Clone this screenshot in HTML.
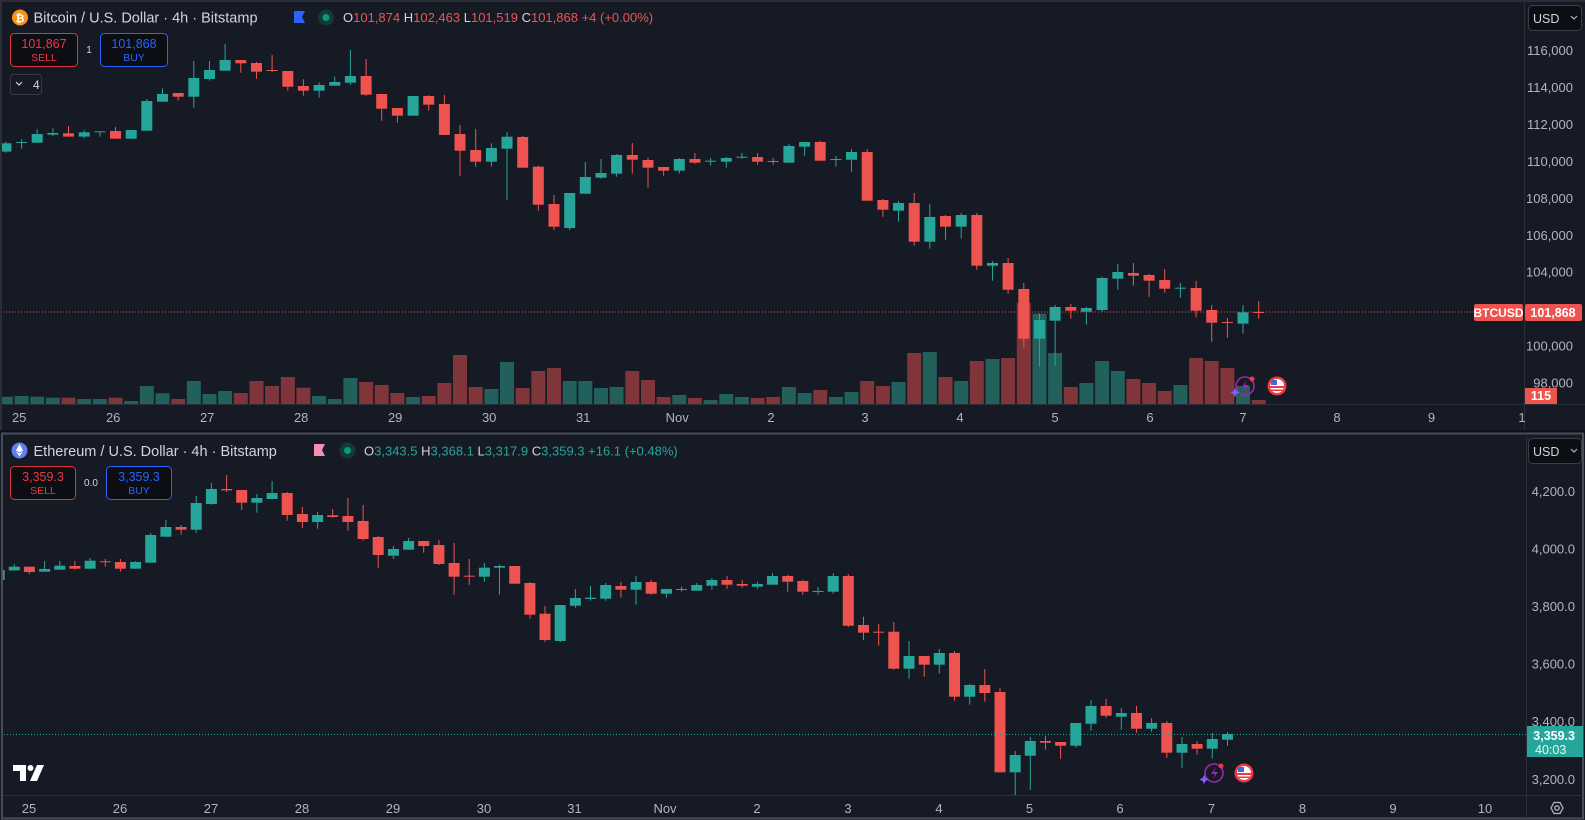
<!DOCTYPE html>
<html><head><meta charset="utf-8"><style>
html,body{margin:0;padding:0;background:#161a25;width:1585px;height:820px;overflow:hidden}
svg{display:block}
text{font-family:"Liberation Sans",sans-serif}
</style></head><body>
<svg id="s" width="1585" height="820" xmlns="http://www.w3.org/2000/svg"></svg>
<script>
const S=document.getElementById('s');let h='';
const G='#26a69a',R='#ef5350',VG='#22605c',VR='#7f353a',TX='#b2b5be';
h+=`<rect x="0" y="0" width="1585" height="820" fill="#161a25"/>`;
h+=`<rect x="0" y="0" width="1585" height="2" fill="#2a2e39"/>`;
h+=`<rect x="0" y="0" width="2" height="432" fill="#2a2e39"/>`;
// axis lines
h+=`<line x1="1524.5" y1="0" x2="1524.5" y2="432" stroke="#2a2e39"/>`;
h+=`<line x1="0" y1="404.5" x2="1585" y2="404.5" stroke="#2a2e39"/>`;
h+=`<rect x="0" y="430" width="1585" height="4" fill="#0f1117"/>`;
h+=`<rect x="2" y="433.5" width="1581" height="385" fill="none" stroke="#4a4d57" stroke-width="2"/>`;
h+=`<line x1="1526.5" y1="434" x2="1526.5" y2="818" stroke="#2a2e39"/>`;
h+=`<line x1="3" y1="795.5" x2="1583" y2="795.5" stroke="#2a2e39"/>`;

// BTC data [bt,bb,wt,wb,c]
const B=[[430,455,425,458,1],[426,428,418,446,1],[402,428,388,428,1],[399,404,385,408,1],[400,410,378,410,0],[397,410,390,415,1],[394,396,394,410,1],[393,416,381,416,0],[390,416,390,416,1],[303,392,297,392,1],[282,305,265,305,1],[279,290,279,302,0],[234,290,183,323,1],[210,237,183,242,1],[180,212,132,212,1],[180,190,180,218,0],[189,215,186,236,0],[210,213,165,216,0],[213,260,213,272,0],[258,272,238,287,0],[255,272,247,293,1],[246,257,230,257,1],[228,248,150,255,1],[228,284,177,287,0],[282,326,282,362,0],[324,347,324,368,0],[288,347,288,347,1],[288,314,286,332,0],[312,405,285,405,0],[402,452,375,527,0],[450,485,387,500,0],[444,485,430,500,1],[410,446,396,600,1],[411,503,408,503,0],[500,614,497,632,0],[612,680,585,690,0],[579,684,579,690,1],[531,581,486,581,1],[519,533,477,536,1],[465,521,462,530,1],[465,479,429,521,0],
[480,503,474,563,0],[501,512,501,527,0],[477,512,474,521,1],[477,488,459,491,0],[482,485,474,497,1],[474,485,471,503,1],[470,472,459,476,1],[471,485,459,494,0],[483,485,474,494,0],[438,488,432,488,1],[426,440,426,467,1],[426,482,423,482,0],[477,479,468,500,1],[456,479,447,515,1],[456,602,447,602,0],[600,629,597,650,0],[609,632,603,665,1],[609,725,579,737,0],[651,725,612,746,1],[648,680,645,719,0],[645,680,639,716,1],[645,797,639,809,0],[789,797,783,842,1],[789,869,774,881,0],[867,1016,849,1042,0],[960,1016,940,1100,1],[921,962,915,1097,1],[921,932,912,956,0],[924,935,921,974,1],[834,930,830,935,1],[816,836,792,869,1],[819,827,789,857,0],[825,842,822,890,0],[840,866,807,878,0],[863,865,849,893,1],[864,932,843,952,0],[930,968,915,1025,0],[966,968,954,1013,0],[937,971,915,1001,1],[936,938,903,956,0]];
const BV=[1190,1188,1190,1193,1193,1197,1197,1193,1203,1158,1180,1197,1143,1182,1173,1179,1143,1158,1131,1163,1188,1197,1134,1146,1155,1179,1191,1188,1149,1065,1161,1167,1086,1164,1113,1104,1143,1143,1164,1161,1113,
1140,1191,1185,1194,1200,1182,1191,1194,1191,1161,1179,1170,1191,1176,1143,1158,1146,1059,1056,1131,1143,1083,1077,1074,908,941,1059,1161,1149,1083,1113,1137,1149,1173,1155,1074,1083,1104,1158,1200];
h+=`<defs><clipPath id="cb"><rect x="2" y="0" width="1522" height="404"/></clipPath><clipPath id="ce"><rect x="3" y="434" width="1523" height="361"/></clipPath></defs>`;
let g='<g clip-path="url(#cb)">';
B.forEach((d,k)=>{const x=5.9+15.66*k;const v=BV[k];const c=d[4]?VG:VR;
g+=`<rect x="${(x-7).toFixed(1)}" y="${(v/3).toFixed(1)}" width="14" height="${(404-v/3).toFixed(1)}" fill="${c}"/>`;});
B.forEach((d,k)=>{const x=5.9+15.66*k;const c=d[4]?G:R;
g+=`<rect x="${(x-0.5).toFixed(1)}" y="${(d[2]/3).toFixed(1)}" width="1" height="${((d[3]-d[2])/3).toFixed(1)}" fill="${c}"/>`;
g+=`<rect x="${(x-5.5).toFixed(1)}" y="${(d[0]/3).toFixed(1)}" width="11" height="${Math.max(1,(d[1]-d[0])/3).toFixed(1)}" fill="${c}"/>`;});
g+='</g>';h+=g;

// ETH data
const E=[[420,450,420,455,1],[410,421,403,421,1],[410,426,410,432,0],[417,425,393,425,1],[407,419,393,419,1],[408,416,393,419,0],[392,416,384,416,1],[394,396,387,410,0],[396,416,387,425,0],[396,416,393,416,1],[315,398,309,398,1],[291,320,270,320,1],[291,299,285,314,0],[219,299,198,308,1],[177,222,159,224,1],[177,181,135,186,0],[180,218,180,240,0],[204,218,192,248,1],[189,207,153,207,1],[189,255,186,272,0],[252,276,231,294,0],[255,276,246,296,1],[256,261,237,263,0],[258,276,204,302,0],[273,327,225,332,0],[321,375,318,413,0],[357,377,348,387,1],[333,359,324,359,1],[333,348,333,368,0],[345,402,330,405,0],[399,440,339,494,0],[437,440,387,464,0],[413,440,399,455,1],[408,413,404,494,1],[408,461,408,461,0],[459,554,456,566,0],[551,630,528,636,0],[525,633,525,636,1],[504,527,477,533,1],[503,507,468,512,1],[465,506,459,512,1],[468,479,456,503,0],[456,479,438,524,1],
[456,491,450,494,0],[477,491,477,503,1],[477,480,470,484,0],[465,482,459,482,1],[450,467,444,479,1],[450,464,438,476,0],[462,467,450,473,0],[462,470,456,476,1],[438,464,429,464,1],[438,455,435,485,0],[453,485,450,494,0],[483,486,471,494,1],[438,485,429,491,1],[438,587,432,590,0],[585,608,560,630,0],[605,608,582,647,0],[605,716,576,719,0],[678,716,633,746,1],[678,704,678,740,0],[669,704,657,731,1],[669,800,663,812,0],[765,800,762,824,1],[765,789,717,815,0],[786,1027,774,1027,0],[975,1027,963,1095,1],[933,977,921,1080,1],[933,938,918,959,0],[936,947,936,986,0],[879,947,879,953,1],[828,881,810,902,1],[828,857,807,863,0],[849,860,834,899,1],[849,896,828,908,0],[879,896,864,905,1],[879,968,873,983,0],[942,968,921,1013,1],[942,956,933,974,0],[927,956,909,986,1],[912,929,906,947,1]];
g='<g clip-path="url(#ce)">';
E.forEach((d,k)=>{const x=-0.9+15.165*k;const c=d[4]?G:R;
g+=`<rect x="${(x-0.5).toFixed(1)}" y="${(430+d[2]/3).toFixed(1)}" width="1" height="${((d[3]-d[2])/3).toFixed(1)}" fill="${c}"/>`;
g+=`<rect x="${(x-5.5).toFixed(1)}" y="${(430+d[0]/3).toFixed(1)}" width="11" height="${Math.max(1,(d[1]-d[0])/3).toFixed(1)}" fill="${c}"/>`;});
g+='</g>';h+=g;

// price lines
h+=`<line x1="3" y1="312" x2="1474" y2="312" stroke="${R}" stroke-dasharray="1 2"/>`;
h+=`<line x1="4" y1="734.5" x2="1527" y2="734.5" stroke="${G}" stroke-dasharray="1 2"/>`;

// BTC axis labels
[[116,50.7],[114,87.6],[112,124.5],[110,161.4],[108,198.4],[106,235.3],[104,272.2],[100,346],[98,382.9]].forEach(a=>{
h+=`<text x="1573" y="${a[1]+4.5}" fill="${TX}" font-size="13" text-anchor="end">${a[0]},000</text>`;});
[['4,200.0',491.3],['4,000.0',548.9],['3,800.0',606.5],['3,600.0',664.1],['3,400.0',721.7],['3,200.0',779.3]].forEach(a=>{
h+=`<text x="1575" y="${a[1]+4.5}" fill="${TX}" font-size="13" text-anchor="end">${a[0]}</text>`;});
// BTC price tags
h+=`<rect x="1474" y="304" width="49" height="17" rx="2" fill="${R}"/><text x="1498.5" y="317" fill="#fff" font-size="12" font-weight="bold" text-anchor="middle">BTCUSD</text>`;
h+=`<rect x="1525" y="304" width="57" height="17" rx="2" fill="${R}"/><text x="1553" y="317" fill="#fff" font-size="12.5" font-weight="bold" text-anchor="middle">101,868</text>`;
h+=`<rect x="1525" y="388" width="32" height="16" fill="${R}"/><text x="1541" y="400" fill="#fff" font-size="12.5" font-weight="bold" text-anchor="middle">115</text>`;
h+=`<rect x="1527" y="726" width="56" height="31" fill="${G}"/><text x="1575" y="740" fill="#fff" font-size="12.5" font-weight="bold" text-anchor="end">3,359.3</text><text x="1535" y="754" fill="#e8f5f3" font-size="12.5">40:03</text>`;
// USD boxes
[[5],[438]].forEach(a=>{const y=a[0];h+=`<rect x="1528.5" y="${y+0.5}" width="53" height="25" rx="4" fill="#0c0e13" stroke="#3a3e4a"/><text x="1533" y="${y+18}" fill="#d1d4dc" font-size="12.5">USD</text><path d="M1571 ${y+11} l3 3 l3 -3" stroke="#b2b5be" fill="none" stroke-width="1.2"/>`;});
// time labels
[['25',19.2],['26',113.2],['27',207.2],['28',301.2],['29',395.2],['30',489.2],['31',583.2],['Nov',677.2],['2',771],['3',865],['4',960],['5',1055],['6',1150],['7',1243],['8',1337],['9',1431.5],['1',1522]].forEach(a=>{
h+=`<text x="${a[1]}" y="422" fill="${TX}" font-size="13" text-anchor="middle">${a[0]}</text>`;});
[['25',29],['26',120],['27',211],['28',302],['29',393],['30',484],['31',574.5],['Nov',665],['2',757],['3',848],['4',939],['5',1029.5],['6',1120],['7',1211.5],['8',1302.5],['9',1393],['10',1485]].forEach(a=>{
h+=`<text x="${a[1]}" y="813" fill="${TX}" font-size="13" text-anchor="middle">${a[0]}</text>`;});
// settings icon
h+=`<path d="M1551 808 l3 -5.5 h6 l3 5.5 l-3 5.5 h-6 z" fill="none" stroke="#b2b5be" stroke-width="1.3"/><circle cx="1557" cy="808" r="2.2" fill="none" stroke="#b2b5be" stroke-width="1.3"/>`;

// headers
h+=`<circle cx="20" cy="17.5" r="8" fill="#f7931a"/><text x="20" y="22" fill="#fff" font-size="11" font-weight="bold" text-anchor="middle">₿</text>`;
h+=`<text x="33.5" y="22.5" fill="#d1d4dc" font-size="14.5">Bitcoin / U.S. Dollar · 4h · Bitstamp</text>`;
h+=`<path d="M294 11 h11 l-3 6 l3 6 h-11 z" fill="#2962ff"/>`;
h+=`<circle cx="326" cy="17.5" r="8" fill="#123a37"/><circle cx="326" cy="17.5" r="3.5" fill="#089981"/>`;
h+=`<text x="343" y="22" font-size="13" fill="${R}"><tspan fill="#d1d4dc">O</tspan>101,874 <tspan fill="#d1d4dc">H</tspan>102,463 <tspan fill="#d1d4dc">L</tspan>101,519 <tspan fill="#d1d4dc">C</tspan>101,868 +4 (+0.00%)</text>`;
h+=`<rect x="10.5" y="33.5" width="67" height="33" rx="4" fill="#0c0e13" stroke="#e0343c"/><text x="44" y="48" fill="#f23645" font-size="12.5" text-anchor="middle">101,867</text><text x="44" y="61" fill="#f23645" font-size="10.5" text-anchor="middle">SELL</text>`;
h+=`<text x="89" y="53" fill="#d1d4dc" font-size="10" text-anchor="middle">1</text>`;
h+=`<rect x="100.5" y="33.5" width="67" height="33" rx="4" fill="#0c0e13" stroke="#2962ff"/><text x="134" y="48" fill="#2962ff" font-size="12.5" text-anchor="middle">101,868</text><text x="134" y="61" fill="#2962ff" font-size="10.5" text-anchor="middle">BUY</text>`;
h+=`<rect x="10.5" y="74.5" width="31" height="20" rx="3" fill="#161a25" stroke="#363a45"/><path d="M16 82 l3 3 l3 -3" stroke="#d1d4dc" fill="none" stroke-width="1.2"/><text x="33" y="89" fill="#d1d4dc" font-size="12">4</text>`;

h+=`<circle cx="19.5" cy="450.5" r="8" fill="#627eea"/><path d="M19.5 444 l-3.5 6.5 l3.5 2 l3.5 -2 z M16 451.5 l3.5 5 l3.5 -5 l-3.5 2 z" fill="#fff"/>`;
h+=`<text x="33.5" y="456" fill="#d1d4dc" font-size="14.5">Ethereum / U.S. Dollar · 4h · Bitstamp</text>`;
h+=`<path d="M314 444 h11 l-3 6 l3 6 h-11 z" fill="#f48fb1"/>`;
h+=`<circle cx="347.5" cy="450.5" r="8" fill="#123a37"/><circle cx="347.5" cy="450.5" r="3.5" fill="#089981"/>`;
h+=`<text x="364" y="455.5" font-size="13" fill="${G}"><tspan fill="#d1d4dc">O</tspan>3,343.5 <tspan fill="#d1d4dc">H</tspan>3,368.1 <tspan fill="#d1d4dc">L</tspan>3,317.9 <tspan fill="#d1d4dc">C</tspan>3,359.3 +16.1 (+0.48%)</text>`;
h+=`<rect x="10.5" y="466.5" width="65" height="33" rx="4" fill="#0c0e13" stroke="#e0343c"/><text x="43" y="481" fill="#f23645" font-size="12.5" text-anchor="middle">3,359.3</text><text x="43" y="494" fill="#f23645" font-size="10.5" text-anchor="middle">SELL</text>`;
h+=`<text x="91" y="486" fill="#d1d4dc" font-size="10" text-anchor="middle">0.0</text>`;
h+=`<rect x="106.5" y="466.5" width="65" height="33" rx="4" fill="#0c0e13" stroke="#2962ff"/><text x="139" y="481" fill="#2962ff" font-size="12.5" text-anchor="middle">3,359.3</text><text x="139" y="494" fill="#2962ff" font-size="10.5" text-anchor="middle">BUY</text>`;
// TV logo
h+=`<path d="M13 765 h13 v16 h-6 v-10 h-7 z" fill="#fff"/><circle cx="30.5" cy="768" r="3" fill="#fff"/><path d="M37 765 h7 l-7 16 h-7 z" fill="#fff"/>`;
// event icons
function icons(x1,x2,y){h+=`<circle cx="${x1}" cy="${y}" r="9" fill="none" stroke="#9c27b0" stroke-width="1.6"/><path d="M${x1+2} ${y-6} l-5 7 h4 l-2 5 l5 -7 h-4 z" fill="#9c27b0"/><path d="M${x1-10} ${y+2} l1.5 3 l3 1.5 l-3 1.5 l-1.5 3 l-1.5 -3 l-3 -1.5 l3 -1.5 z" fill="#7b61ff"/><circle cx="${x1+7}" cy="${y-7}" r="2.5" fill="#f23645"/>`;
h+=`<circle cx="${x2}" cy="${y}" r="9.5" fill="#f23645"/><circle cx="${x2}" cy="${y}" r="7" fill="#fff"/><rect x="${x2-7}" y="${y}" width="14" height="2" fill="#f23645"/><rect x="${x2-6}" y="${y+3.5}" width="12" height="1.5" fill="#f23645"/><rect x="${x2-6}" y="${y-6}" width="6" height="5" fill="#3f6ad8"/>`;}
icons(1245,1277,386);icons(1214,1244,773);
S.innerHTML=h;
</script>
</body></html>
